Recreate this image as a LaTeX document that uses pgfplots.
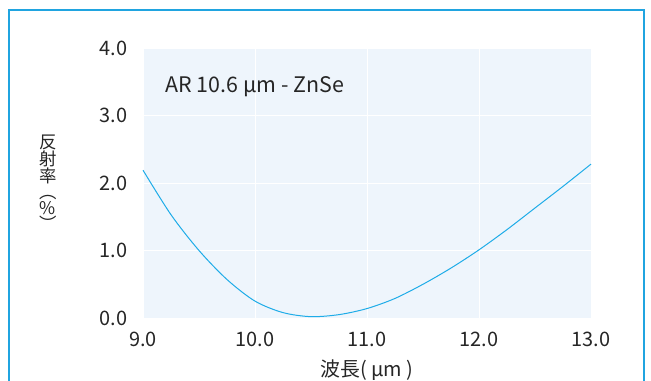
\documentclass[border=0pt]{standalone}
\usepackage{pgfplots}
\pgfplotsset{compat=1.18}
\usepackage{fontspec}
\setmainfont{Noto Sans CJK JP}
\definecolor{framecol}{RGB}{32,164,224}
\definecolor{curvecol}{RGB}{30,172,232}
\definecolor{bgcol}{RGB}{238,245,252}
\begin{document}
\begin{tikzpicture}
\path[use as bounding box] (0,0) rectangle (651bp,-381bp);
\draw[framecol, line width=1.6bp] (9bp,-395bp) -- (9bp,-10bp) -- (644bp,-10bp) -- (644bp,-395bp);
\begin{axis}[
  at={(143bp,-318bp)}, anchor=south west,
  scale only axis, width=448bp, height=270bp,
  xmin=9, xmax=13, ymin=0, ymax=4,
  xtick={9,10,11,12,13}, ytick={0,1,2,3,4},
  axis background/.style={fill=bgcol},
  axis line style={draw=none},
  major tick length=0pt,
  grid=major,
  major grid style={white, line width=1bp},
  /pgf/number format/assume math mode=true,
  /pgf/number format/fixed, /pgf/number format/fixed zerofill, /pgf/number format/precision=1,
  tick label style={font=\fontsize{20}{21}\selectfont, text=black!85},
  yticklabel style={xshift=-12bp},
  xticklabel style={yshift=-11bp},
  clip=false,
]
\addplot[curvecol, line width=1bp, smooth] coordinates {
(9.0,2.19) (9.25,1.53) (9.5,1.00) (9.75,0.57) (10.0,0.25) (10.25,0.08) (10.5,0.02)
(10.75,0.05) (11.0,0.14) (11.25,0.29) (11.5,0.50) (11.75,0.74) (12.0,1.01)
(12.25,1.31) (12.5,1.63) (12.75,1.95) (13.0,2.28)
};
\end{axis}
\node[anchor=west, font=\fontsize{21.5}{22}\selectfont, text=black!85, inner sep=0] at (165bp,-87bp) {AR 10.6 µm - ZnSe};
\node[align=center, font=\fontsize{17.5}{16}\selectfont, text=black!85, inner sep=0] at (48bp,-183bp) {反\\射\\率\\︵\\\%\\︶};
\node[font=\fontsize{20}{21}\selectfont, text=black!85, inner sep=0] at (367bp,-370bp) {波長( µm )};
\end{tikzpicture}
\end{document}
